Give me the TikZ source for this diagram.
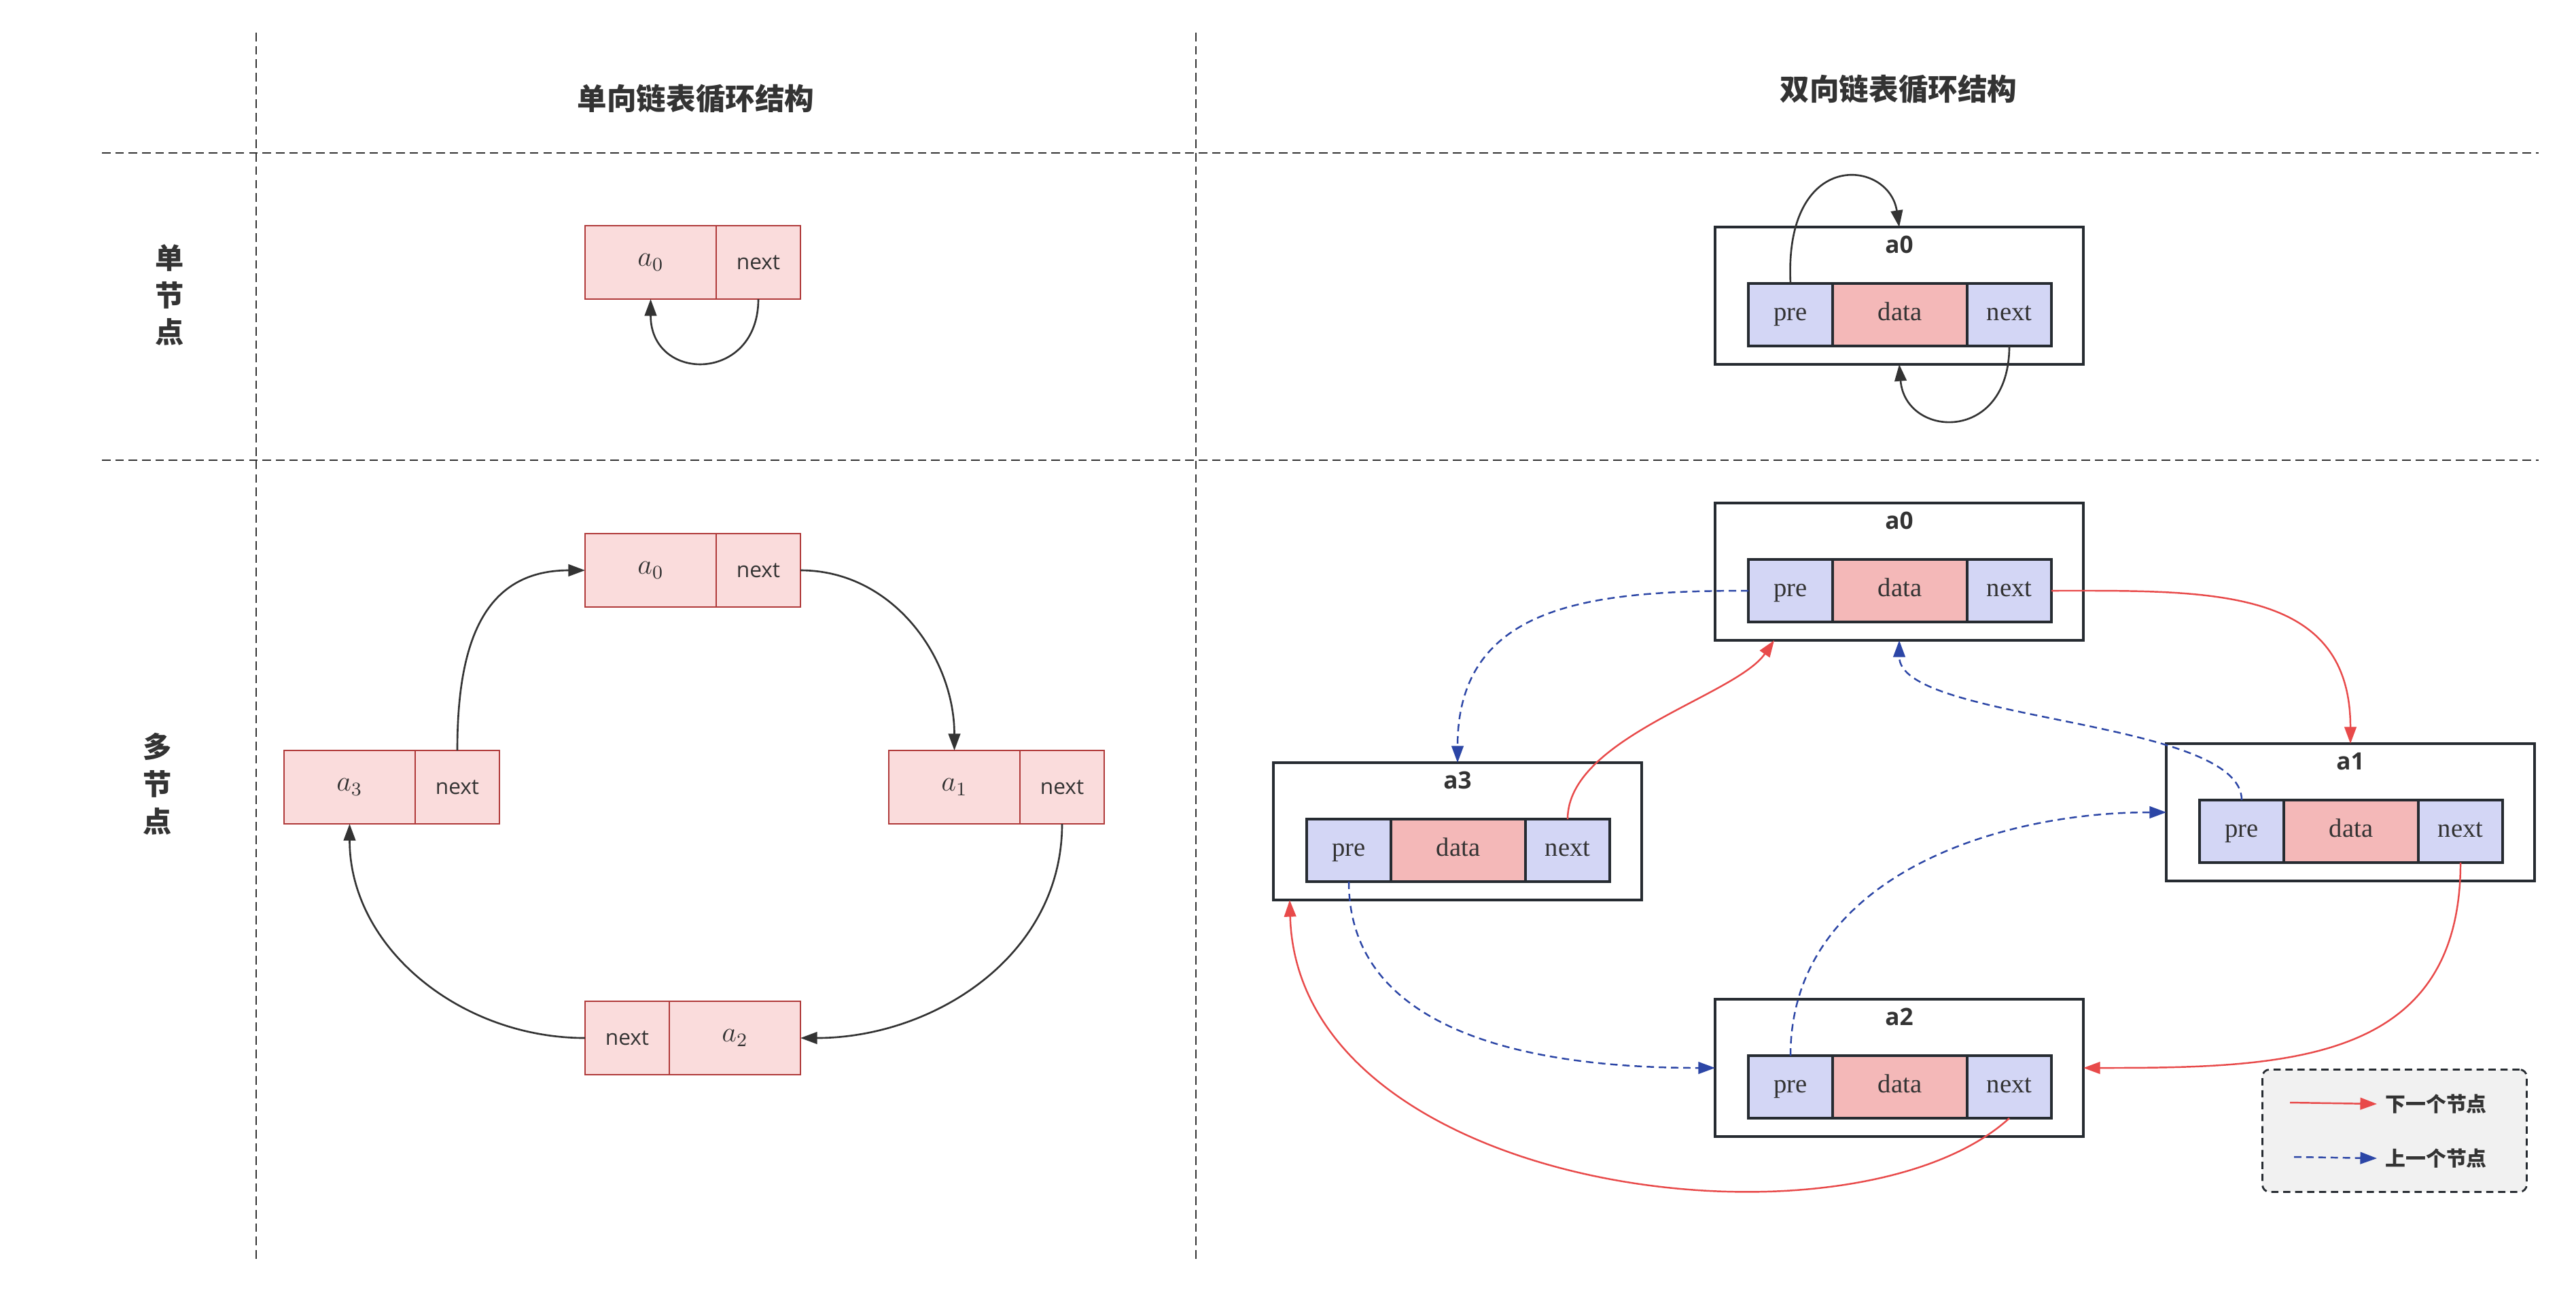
\documentclass[tikz,border=0pt]{standalone}
\usepackage{fontspec}
\setmainfont{Liberation Serif}
\newfontfamily\cjk{Noto Sans CJK SC}
\newfontfamily\osans{Open Sans}
\usetikzlibrary{arrows.meta,calc,positioning}
\definecolor{txt}{HTML}{333333}
\definecolor{sfill}{HTML}{FADCDC}
\definecolor{sline}{HTML}{B03A3A}
\definecolor{pfill}{HTML}{D3D6F5}
\definecolor{dfill}{HTML}{F4B8B8}
\definecolor{dline}{HTML}{262B31}
\definecolor{nxtred}{HTML}{E84A4A}
\definecolor{preblue}{HTML}{2C46A6}
\definecolor{lgfill}{HTML}{F1F1F1}
\tikzset{
	divider/.style={draw=txt, line width=0.8pt, dash pattern=on 3.6pt off 2pt},
	title/.style={font=\cjk\bfseries\fontsize{12.4}{15}\selectfont, text=txt},
	rowlab/.style={font=\cjk\bfseries\fontsize{12}{15.6}\selectfont, text=txt, align=center},
	scell/.style={draw=sline, fill=sfill, line width=0.8pt, minimum height=1.08cm, inner sep=0pt, outer sep=0pt, text=txt, font=\fontsize{12}{14}\selectfont},
	snext/.style={font=\osans\fontsize{9}{11}\selectfont},
	dbox/.style={draw=dline, line width=0.9pt, minimum width=5.42cm, minimum height=2.02cm, inner sep=0pt, outer sep=0pt},
	dlab/.style={font=\osans\bfseries\fontsize{10}{12}\selectfont, text=txt, inner sep=0pt},
	dcell/.style={draw=dline, line width=0.9pt, minimum height=0.92cm, inner sep=0pt, outer sep=0pt, text=txt, font=\fontsize{11}{13}\selectfont, text height=1.5ex, text depth=0.4ex},
	blk/.style={draw=txt, line width=0.75pt, -{Triangle[length=7pt,width=5pt]}},
	nxt/.style={draw=nxtred, line width=0.7pt, -{Triangle[length=7pt,width=5pt]}, color=nxtred},
	prv/.style={draw=preblue, line width=0.7pt, dash pattern=on 3.1pt off 2pt, -{Triangle[length=7pt,width=5pt]}, color=preblue},
	lgtext/.style={font=\cjk\bfseries\fontsize{8.5}{10}\selectfont, text=txt, anchor=west}
}
% #1 name, #2 top left corner, #3 label
\newcommand{\dnode}[3]{
	\node[dbox, anchor=north west] (#1) at (#2) {};
	\node[dlab] (#1t) at ($(#1.north)+(0,-0.26)$) {#3};
	\node[dcell, fill=pfill, minimum width=1.24cm, below right=0.83cm and 0.49cm of #1.north west] (#1p) {pre};
	\node[dcell, fill=dfill, minimum width=1.98cm, right=0pt of #1p] (#1d) {data};
	\node[dcell, fill=pfill, minimum width=1.24cm, right=0pt of #1d] (#1n) {next};
}

\begin{document}
\begin{tikzpicture}
		%%%%% START %%%%%
		\useasboundingbox (0,0) rectangle (37.91,-19.10);
		
		\draw[divider] (3.77,-0.48) -- (3.77,-18.57);
		\draw[divider] (17.60,-0.48) -- (17.60,-18.57);
		\draw[divider] (1.50,-2.25) -- (37.36,-2.25);
		\draw[divider] (1.50,-6.77) -- (37.36,-6.77);
		
		\node[title] (t1) at (10.24,-1.45) {单向链表循环结构};
		\node[title] (t2) at (27.94,-1.31) {双向链表循环结构};
		\node[rowlab] (r1) at (2.50,-4.34) {单\\节\\点};
		\node[rowlab] (r2) at (2.32,-11.53) {多\\节\\点};
		
		% singly, one node
		\node[scell, minimum width=1.93cm, anchor=west] (sa) at (8.61,-3.86) {$a_0$};
		\node[scell, minimum width=1.24cm, right=0pt of sa, snext] (sn) {next};
		\draw[blk] (sn.south) to[out=-90,in=-90,looseness=2] (sa.south);
		
		% singly, four nodes
		\node[scell, minimum width=1.93cm, anchor=west] (ma0) at (8.61,-8.39) {$a_0$};
		\node[scell, minimum width=1.24cm, right=0pt of ma0, snext] (mn0) {next};
		\node[scell, minimum width=1.93cm, anchor=west] (ma1) at (13.08,-11.58) {$a_1$};
		\node[scell, minimum width=1.24cm, right=0pt of ma1, snext] (mn1) {next};
		\node[scell, minimum width=1.24cm, anchor=west, snext] (mn2) at (8.61,-15.27) {next};
		\node[scell, minimum width=1.93cm, right=0pt of mn2] (ma2) {$a_2$};
		\node[scell, minimum width=1.93cm, anchor=west] (ma3) at (4.18,-11.58) {$a_3$};
		\node[scell, minimum width=1.24cm, right=0pt of ma3, snext] (mn3) {next};
		
		\draw[blk] (mn0.east) to[out=0,in=90] (ma1.north);
		\draw[blk] (mn1.south) to[out=-90,in=0] (ma2.east);
		\draw[blk] (mn2.west) to[out=180,in=-90] (ma3.south);
		\draw[blk] (mn3.north) to[out=90,in=180,looseness=1.2] (ma0.west);
		
		% doubly, one node
		\dnode{dS}{25.24,-3.34}{a0}
		\draw[blk] (dSp.north) .. controls +(-0.1,2.0) and +(-0.15,1.0) .. (dS.north);
		\draw[blk] (dSn.south) .. controls +(0,-1.44) and +(0.09,-1.09) .. (dS.south);
		
		% doubly, four nodes
		\dnode{dA0}{25.24,-7.40}{a0}
		\dnode{dA1}{31.88,-10.94}{a1}
		\dnode{dA2}{25.24,-14.70}{a2}
		\dnode{dA3}{18.74,-11.22}{a3}
		
		\draw[nxt] (dA0n.east) to[out=0,in=90,looseness=1.2] (dA1.north);
		\draw[nxt] (dA1n.south) to[out=-90,in=0,looseness=1.2] (dA2.east);
		\draw[nxt] (dA2n.south) .. controls +(-2.33,-2.12) and +(0.12,-4.34) .. ([xshift=0.24cm]dA3.south west);
		\draw[nxt] (dA3n.north) .. controls +(0,1.2) and +(-0.57,-0.82) .. ([xshift=0.87cm]dA0.south west);
		
		\draw[prv] (dA0p.west) to[out=180,in=90,looseness=1.2] (dA3.north);
		\draw[prv] (dA1p.north) .. controls +(0,1.2) and +(0,-1.2) .. (dA0.south);
		\draw[prv] (dA3p.south) to[out=-90,in=180] (dA2.west);
		\draw[prv] (dA2p.north) to[out=90,in=180] (dA1.west);
		
		% legend
		\node[draw=dline, fill=lgfill, rounded corners=3pt, dash pattern=on 3pt off 2pt, line width=0.8pt, minimum width=3.89cm, minimum height=1.80cm, anchor=north west] (lg) at (33.28,-15.72) {};
		\node[lgtext] (lgn) at (34.98,-16.24) {下一个节点};
		\node[lgtext] (lgp) at (34.98,-17.04) {上一个节点};
		\coordinate (lgna) at (33.70,-16.22);
		\coordinate (lgpa) at (33.76,-17.02);
		\draw[nxt] (lgna) -- (lgn.west);
		\draw[prv] (lgpa) -- (lgp.west);
		%%%%% END %%%%%
	\end{tikzpicture}
\end{document}
